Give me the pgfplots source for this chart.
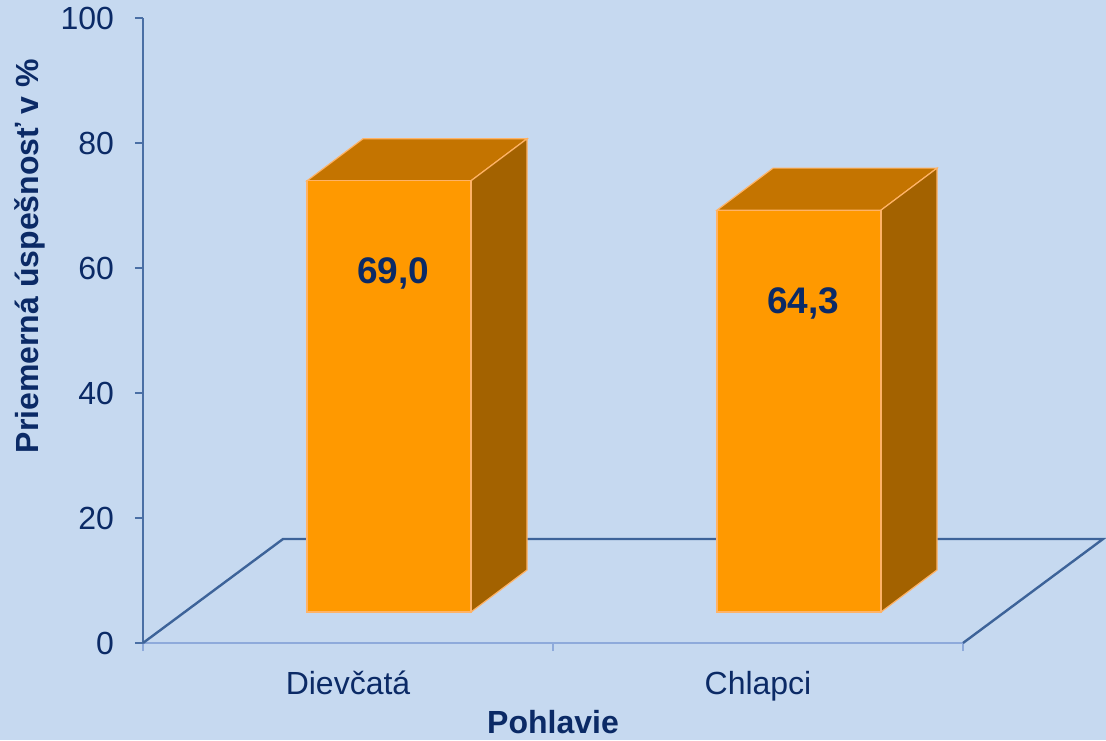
\documentclass[border=0pt]{standalone}
\usepackage{fontspec}
\setmainfont{Liberation Sans}
\usepackage{pgfplots}
\usepackage{pgfplotstable}
\pgfplotsset{compat=1.18}

\definecolor{bgblue}{HTML}{C6D9F0}
\definecolor{navy}{HTML}{0B2A66}
\definecolor{barfront}{HTML}{FF9900}
\definecolor{bartop}{HTML}{C47400}
\definecolor{barside}{HTML}{A36200}
\definecolor{baredge}{HTML}{FFB366}
\definecolor{xline}{HTML}{8EAADB}
\definecolor{yline}{HTML}{4A6FA5}
\definecolor{floorline}{HTML}{3D6399}

% average success per gender
\pgfplotstableread{
pos value
0.5 69.0
1.5 64.3
}\scores
\pgfplotstablegetelem{0}{value}\of\scores \edef\vgirls{\pgfplotsretval}
\pgfplotstablegetelem{1}{value}\of\scores \edef\vboys{\pgfplotsretval}

% 3D box: #1 = category centre, #2 = value
\newcommand{\cube}[2]{%
  \pgfmathsetmacro\xl{#1-0.1}%
  \pgfmathsetmacro\xr{#1+0.3}%
  \pgfmathsetmacro\xlb{#1+0.0366}%
  \pgfmathsetmacro\xrb{#1+0.4366}%
  \pgfmathsetmacro\yt{4.96+#2}%
  \pgfmathsetmacro\ytb{11.68+#2}%
  \addplot[fill=bartop, draw=baredge, line width=0.6pt] coordinates {(\xl,\yt) (\xr,\yt) (\xrb,\ytb) (\xlb,\ytb)} -- cycle;
  \addplot[fill=barside, draw=baredge, line width=0.6pt] coordinates {(\xr,4.96) (\xrb,11.68) (\xrb,\ytb) (\xr,\yt)} -- cycle;
  \addplot[fill=barfront, draw=baredge, line width=0.6pt] coordinates {(\xl,4.96) (\xr,4.96) (\xr,\yt) (\xl,\yt)} -- cycle;
  \node[font=\bfseries\fontsize{18.5}{22}\selectfont, text=navy] at (axis cs:{#1+0.11},{#2+4.96-14.9}) {\pgfmathprintnumber[fixed, fixed zerofill, precision=1, use comma]{#2}};
}

\begin{document}
\begin{tikzpicture}
\fill[bgblue] (-71.5pt,-48.5pt) rectangle (481.5pt,321.5pt);
\begin{axis}[
  at={(0,0)}, anchor=south west,
  scale only axis, width=410pt, height=312.5pt,
  xmin=0, xmax=2, ymin=0, ymax=100,
  clip=false,
  axis x line=bottom, axis y line=left,
  axis line style={-},
  x axis line style={color=xline, line width=1.4pt},
  y axis line style={color=yline, line width=1pt},
  xtick={0,1,2}, xticklabels={,,},
  ytick={0,20,...,100},
  tick align=outside,
  major tick length=4pt,
  x tick style={color=xline, line width=1.2pt},
  y tick style={color=yline, line width=1pt},
  extra x ticks={0.5,1.5},
  extra x tick labels={Dievčatá,Chlapci},
  extra x tick style={major tick length=0pt, tick style={draw=none}, xticklabel style={yshift=-10.5pt}},
  tick label style={font=\fontsize{16}{19}\selectfont, text=navy},
  yticklabel style={xshift=-7pt},
  /pgf/number format/assume math mode=true,
  xlabel={Pohlavie},
  xlabel style={at={(axis description cs:0.5,-0.1264)}, anchor=center, font=\bfseries\fontsize{16}{19}\selectfont, text=navy},
  ylabel={Priemerná úspešnosť v \%},
  ylabel style={at={(axis description cs:-0.1378,0.619)}, anchor=center, font=\bfseries\fontsize{16}{19}\selectfont, text=navy},
]
\addplot[floorline, line width=1.2pt] coordinates {(0,0) (0.3415,16.64) (2.3415,16.64) (2,0)};
\cube{0.5}{\vgirls}
\cube{1.5}{\vboys}
\end{axis}
\pgfresetboundingbox
\path (-71.5pt,-48.5pt) rectangle (481.5pt,321.5pt);
\end{tikzpicture}
\end{document}
